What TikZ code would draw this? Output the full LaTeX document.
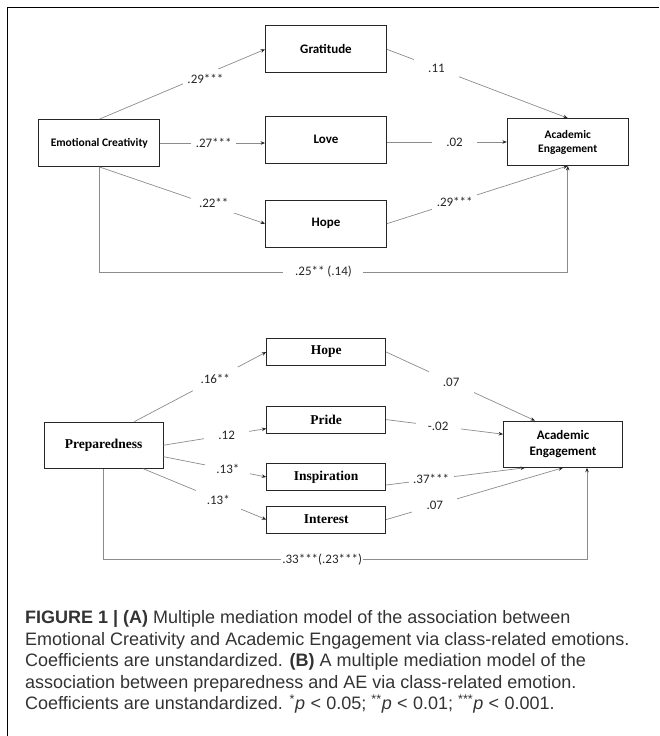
\documentclass[tikz,border=0pt]{standalone}
\usepackage{fontspec}
\setmainfont{Liberation Sans}
\newfontfamily\calib{Carlito}
\newfontfamily\tnr{Liberation Serif}
\usetikzlibrary{arrows.meta,positioning}
\newcommand{\fsz}[1]{\fontsize{#1}{1.2\dimexpr#1pt\relax}\selectfont}
\newcommand{\lt}{\hspace{0.3em}<\hspace{0.3em}}

\begin{document}
\begin{tikzpicture}[x=1pt,y=-1pt,>={Stealth[length=4.5pt,width=3.5pt,color=black!85]},
  conn/.style={draw=black!45,line width=0.7pt},
  lab/.style={fill=white,inner sep=1pt,minimum width=45pt,minimum height=20pt,text=black!85,font=\calib\fsz{13}},
  boxA/.style={draw=black!85,line width=0.8pt,minimum width=121pt,minimum height=47pt,font=\calib\bfseries\fsz{13}},
  boxB/.style={draw=black!85,line width=0.8pt,minimum width=119pt,minimum height=27pt,font=\tnr\bfseries\fsz{13.5}},
  captxt/.style={anchor=base west,inner sep=0pt,text=black!80,font=\fsz{18}}]
\useasboundingbox (0,0) rectangle (659,736);
\draw[line width=1.3pt] (7.5,736) -- (7.5,7.5) -- (659,7.5);

\node[boxA] (grat) at (326,49.3) {Gratitude};
\node[boxA,font=\calib\bfseries\fsz{11.5}] (ecA) at (99.35,143) {Emotional Creativity};
\node[boxA] (love) at (326,139.7) {Love};
\node[boxA,align=center,font=\calib\bfseries\fontsize{11.5}{14}\selectfont] (aeA) at (567.75,142) {Academic\\Engagement};
\node[boxA] (hopeA) at (326,223.7) {Hope};

\draw[conn,->] (ecA.north) -- node[lab,pos=0.64,yshift=-5pt] (eA1) {.29***} (grat.west);
\draw[conn,->] (grat.east) -- node[lab,pos=0.274] (eA2) {.11} (aeA.north);
\draw[conn,->] (ecA.east) -- node[lab,pos=0.51] (eA3) {.27***} (ecA.east -| love.west);
\draw[conn,->] (love.east |- aeA.west) -- node[lab,pos=0.564] (eA4) {.02} (aeA.west);
\draw[conn,->] (ecA.south) -- node[lab,pos=0.69,yshift=3pt] (eA5) {.22**} (hopeA.west);
\draw[conn,->] (hopeA.east) -- node[lab,pos=0.375] (eA6) {.29***} (aeA.south);
\draw[conn,->] (ecA.south) -- ++(0,105) coordinate (cA) -- (cA -| aeA.south) node[lab,pos=0.4785,minimum width=80pt] (eA7) {.25** (.14)} -- (aeA.south);

\node[boxB] (hopeB) at (326.2,352) {Hope};
\node[boxB] (pride) at (326.2,419.6) {Pride};
\node[boxB] (insp) at (326.2,477) {Inspiration};
\node[boxB] (inter) at (326.2,519.6) {Interest};
\node[boxB,minimum height=46.3pt] (prep) at (103.7,445.2) {Preparedness};
\node[boxB,minimum height=46.3pt,align=center,font=\calib\bfseries\fontsize{13}{16.5}\selectfont] (aeB) at (563,444.2) {Academic\\Engagement};
\coordinate (dB) at ([xshift=24pt]aeB.south);

\draw[conn,->] ([xshift=30.6pt]prep.north) -- node[lab,pos=0.613,minimum height=24pt] (eB1) {.16**} (hopeB.west);
\draw[conn,->] (prep.east) -- node[lab,pos=0.614] (eB2) {.12} ([yshift=-9pt]pride.west);
\draw[conn,->] ([yshift=-11.5pt]prep.east) -- node[lab,pos=0.626] (eB3) {.13*} (insp.west);
\draw[conn,->] ([xshift=39.6pt]prep.south) -- node[lab,pos=0.61] (eB4) {.13*} (inter.west);
\draw[conn,->] (hopeB.east) -- node[lab,pos=0.437,minimum height=22pt] (eB5) {.07} ([xshift=-28pt]aeB.north);
\draw[conn,->] (pride.east) -- node[lab,pos=0.445] (eB6) {-.02} ([yshift=10pt]aeB.west);
\draw[conn,->] ([yshift=-8pt]insp.east) -- node[lab,pos=0.324] (eB7) {.37***} ([xshift=-38pt]aeB.south);
\draw[conn,->] (inter.east) -- node[lab,pos=0.275] (eB8) {.07} (aeB.south);
\draw[conn,->] (prep.south) -- ++(0,91) coordinate (cB) -- (cB -| dB) node[lab,pos=0.452,minimum width=0pt,inner xsep=1.5pt] (eB9) {.33***(.23***)} -- (dB);

\node[captxt] (cap1) at (25,623.5) {\textbf{FIGURE 1 | (A)} Multiple mediation model of the association between};
\node[captxt] (cap2) at (25,645) {Emotional Creativity and Academic Engagement via class-related emotions.};
\node[captxt] (cap3) at (25,666.5) {Coefficients are unstandardized. \textbf{(B)} A multiple mediation model of the};
\node[captxt] (cap4) at (25,688) {association between preparedness and AE via class-related emotion.};
\node[captxt] (cap5) at (25,709.5) {Coefficients are unstandardized. \textsuperscript{*}\textit{p}\lt0.05; \textsuperscript{**}\textit{p}\lt0.01; \textsuperscript{***}\textit{p}\lt0.001.};
\end{tikzpicture}
\end{document}
